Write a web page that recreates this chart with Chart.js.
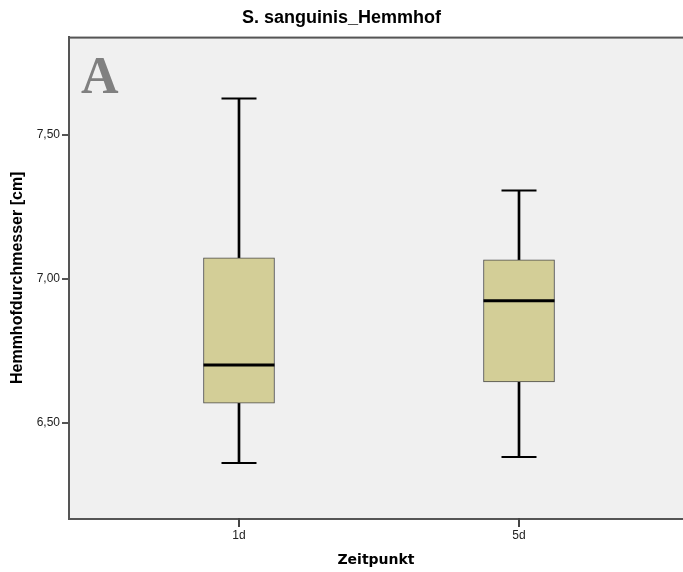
<!DOCTYPE html>
<html>
<head>
<meta charset="utf-8">
<script src="https://cdn.jsdelivr.net/npm/chart.js@4.4.1/dist/chart.umd.min.js"></script>
<style>
  body { margin: 0; background: #fff; }
</style>
</head>
<body>
<canvas id="boxChart" width="683" height="572"></canvas>
<script>
// values
const categories = ['1d', '5d'];
const mins    = [6.361, 6.382];
const q1s     = [6.569, 6.642];
const medians = [6.701, 6.924];
const q3s     = [7.073, 7.066];
const maxs    = [7.625, 7.306];
const yTicks  = [6.5, 7.0, 7.5];

const whiskerData = categories.map((c, i) => ({ x: i + 1, y: [mins[i], maxs[i]] }));
const boxData = categories.map((c, i) => ({ x: i + 1, y: [q1s[i], q3s[i]] }));
const capData = categories.flatMap((c, i) => [{ x: i + 1, y: mins[i] }, { x: i + 1, y: maxs[i] }]);
const medianData = categories.map((c, i) => ({ x: i + 1, y: medians[i] }));

const plotFrame = {
  id: 'plotFrame',
  beforeDraw(chart) {
    const { ctx, chartArea: a } = chart;
    ctx.save();
    ctx.fillStyle = '#f0f0f0';
    ctx.fillRect(a.left, a.top, a.right - a.left, a.bottom - a.top);
    ctx.restore();
  },
  afterDraw(chart) {
    const { ctx, chartArea: a } = chart;
    const xScale = chart.scales.x;
    ctx.save();
    ctx.fillStyle = '#555';
    ctx.fillRect(a.left, a.top, a.right - a.left, 2);
    // x tick marks under each category
    ctx.fillStyle = '#444';
    categories.forEach((c, i) => {
      const px = Math.round(xScale.getPixelForValue(i + 1));
      ctx.fillRect(px - 1, Math.round(a.bottom) - 1, 2, 9);
    });
    // panel letter
    ctx.fillStyle = '#808080';
    ctx.font = 'bold 52px "Liberation Serif", "DejaVu Serif", serif';
    ctx.textBaseline = 'alphabetic';
    ctx.fillText('A', a.left + 12, a.top + 56);
    ctx.restore();
  }
};

const boxCtx = document.getElementById('boxChart').getContext('2d');
const boxChart = new Chart(boxCtx, {
  type: 'bar',
  data: {
    datasets: [
      {
        label: 'whisker',
        data: whiskerData,
        backgroundColor: '#000',
        borderWidth: 0,
        barThickness: 2,
        grouped: false,
        order: 3
      },
      {
        label: 'box',
        data: boxData,
        backgroundColor: '#d3ce97',
        borderColor: '#4a4a4a',
        borderWidth: 1,
        borderSkipped: false,
        barThickness: 71,
        grouped: false,
        order: 2
      },
      {
        type: 'scatter',
        label: 'caps',
        data: capData,
        pointStyle: 'line',
        radius: 17.5,
        borderColor: '#000',
        borderWidth: 2,
        order: 1
      },
      {
        type: 'scatter',
        label: 'median',
        data: medianData,
        pointStyle: 'line',
        radius: 35.5,
        borderColor: '#000',
        borderWidth: 3,
        order: 0
      }
    ]
  },
  options: {
    responsive: false,
    animation: false,
    events: [],
    layout: { padding: 0, autoPadding: false },
    plugins: {
      legend: { display: false },
      tooltip: { enabled: false },
      title: {
        display: true,
        text: 'S. sanguinis_Hemmhof',
        color: '#000',
        font: { family: '"Liberation Sans", Arial, sans-serif', size: 18, weight: 'bold' },
        padding: { top: 7, bottom: 8 }
      }
    },
    scales: {
      x: {
        type: 'linear',
        offset: false,
        min: 0.3929,
        max: 2.5857,
        afterBuildTicks(scale) {
          scale.ticks = categories.map((c, i) => ({ value: i + 1 }));
        },
        afterFit(scale) {
          scale.height = 53;
          scale.paddingRight = 0;
        },
        ticks: {
          callback: (v) => categories[Math.round(v) - 1],
          color: '#222',
          padding: 9,
          maxRotation: 0,
          font: { family: '"Liberation Sans", Arial, sans-serif', size: 12 }
        },
        grid: {
          offset: false,
          drawOnChartArea: false,
          drawTicks: false
        },
        border: { display: true, color: '#555', width: 2 },
        title: {
          display: true,
          text: 'Zeitpunkt',
          color: '#000',
          font: { family: '"DejaVu Sans", sans-serif', size: 14, weight: 'bold' },
          padding: { top: 0, bottom: 3 }
        }
      },
      y: {
        min: 6.167,
        max: 7.840,
        afterBuildTicks(scale) {
          scale.ticks = yTicks.map(v => ({ value: v }));
        },
        afterFit(scale) { scale.width = 69; },
        ticks: {
          callback: (v) => v.toFixed(2).replace('.', ','),
          color: '#222',
          padding: 2,
          font: { family: '"Liberation Sans", Arial, sans-serif', size: 12 }
        },
        grid: {
          drawOnChartArea: false,
          drawTicks: true,
          tickLength: 7,
          color: '#555',
          lineWidth: 2
        },
        border: { display: true, color: '#555', width: 2 },
        title: {
          display: true,
          text: 'Hemmhofdurchmesser [cm]',
          color: '#000',
          font: { family: '"Liberation Sans", Arial, sans-serif', size: 16, weight: 'bold' },
          padding: { top: 8, bottom: 0 }
        }
      }
    }
  },
  plugins: [plotFrame]
});
</script>
</body>
</html>
